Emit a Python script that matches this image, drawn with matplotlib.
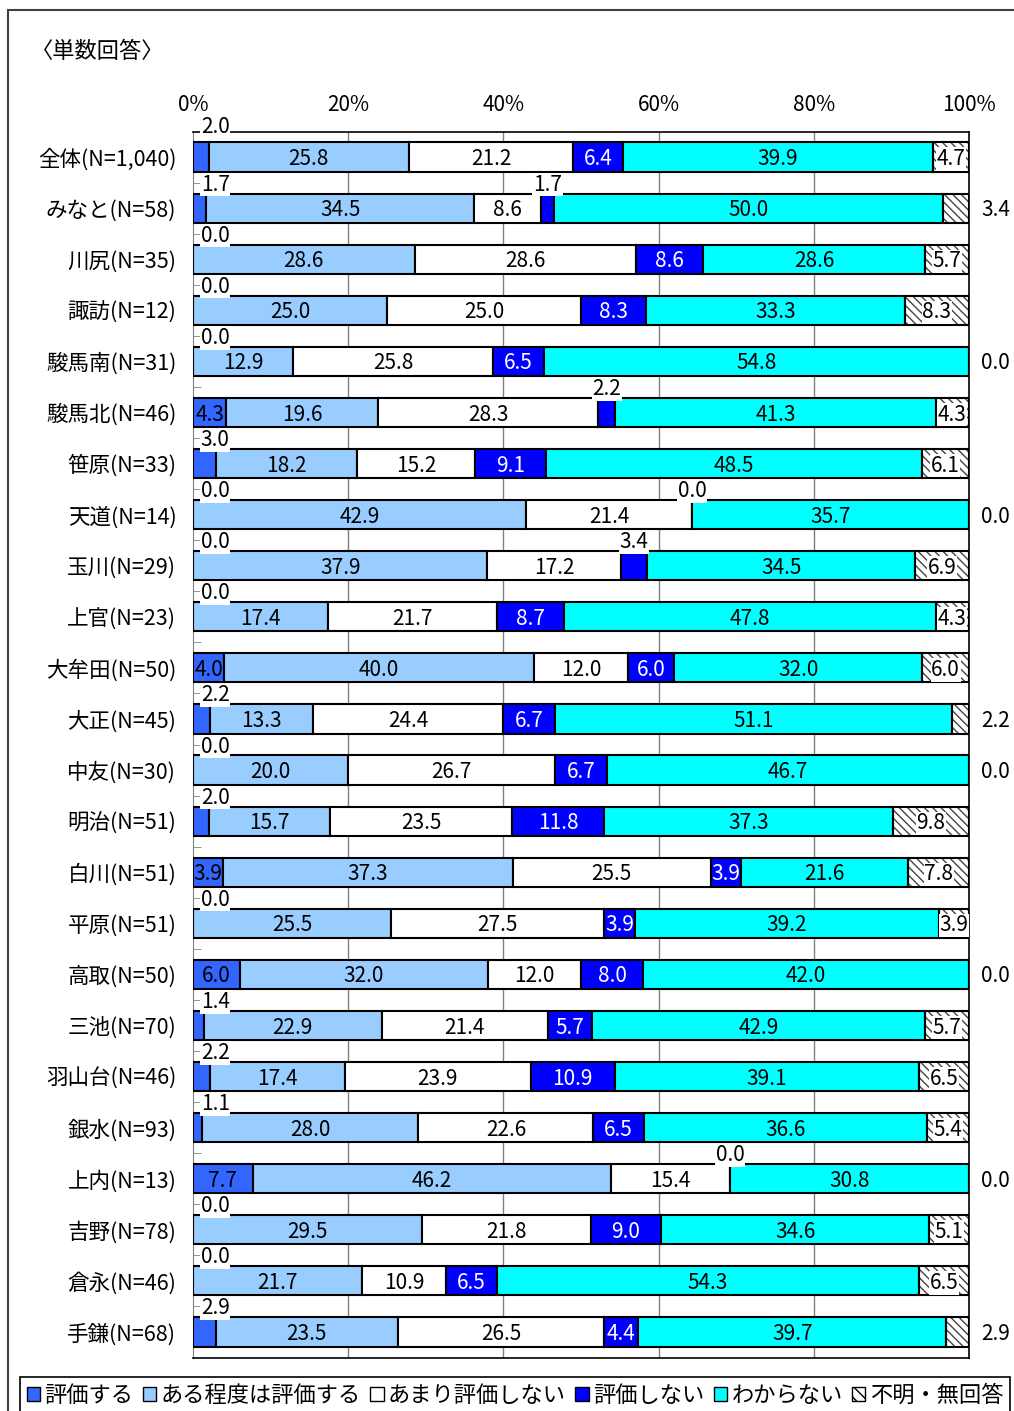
import matplotlib
matplotlib.use('Agg')
import matplotlib.pyplot as plt
from matplotlib.patches import Patch, Rectangle
import numpy as np

plt.rcParams['font.family'] = ['Noto Sans CJK JP', 'DejaVu Sans']

areas = ['全体(N=1,040)', 'みなと(N=58)', '川尻(N=35)', '諏訪(N=12)', '駿馬南(N=31)',
         '駿馬北(N=46)', '笹原(N=33)', '天道(N=14)', '玉川(N=29)', '上官(N=23)',
         '大牟田(N=50)', '大正(N=45)', '中友(N=30)', '明治(N=51)', '白川(N=51)',
         '平原(N=51)', '高取(N=50)', '三池(N=70)', '羽山台(N=46)', '銀水(N=93)',
         '上内(N=13)', '吉野(N=78)', '倉永(N=46)', '手鎌(N=68)']
series = ['評価する', 'ある程度は評価する', 'あまり評価しない', '評価しない', 'わからない', '不明・無回答']

hyoka     = [2.0, 1.7, 0.0, 0.0, 0.0, 4.3, 3.0, 0.0, 0.0, 0.0, 4.0, 2.2,
             0.0, 2.0, 3.9, 0.0, 6.0, 1.4, 2.2, 1.1, 7.7, 0.0, 0.0, 2.9]
aru       = [25.8, 34.5, 28.6, 25.0, 12.9, 19.6, 18.2, 42.9, 37.9, 17.4, 40.0, 13.3,
             20.0, 15.7, 37.3, 25.5, 32.0, 22.9, 17.4, 28.0, 46.2, 29.5, 21.7, 23.5]
amari     = [21.2, 8.6, 28.6, 25.0, 25.8, 28.3, 15.2, 21.4, 17.2, 21.7, 12.0, 24.4,
             26.7, 23.5, 25.5, 27.5, 12.0, 21.4, 23.9, 22.6, 15.4, 21.8, 10.9, 26.5]
shinai    = [6.4, 1.7, 8.6, 8.3, 6.5, 2.2, 9.1, 0.0, 3.4, 8.7, 6.0, 6.7,
             6.7, 11.8, 3.9, 3.9, 8.0, 5.7, 10.9, 6.5, 0.0, 9.0, 6.5, 4.4]
wakaranai = [39.9, 50.0, 28.6, 33.3, 54.8, 41.3, 48.5, 35.7, 34.5, 47.8, 32.0, 51.1,
             46.7, 37.3, 21.6, 39.2, 42.0, 42.9, 39.1, 36.6, 30.8, 34.6, 54.3, 39.7]
fumei     = [4.7, 3.4, 5.7, 8.3, 0.0, 4.3, 6.1, 0.0, 6.9, 4.3, 6.0, 2.2,
             0.0, 9.8, 7.8, 3.9, 0.0, 5.7, 6.5, 5.4, 0.0, 5.1, 6.5, 2.9]

colors = ['#3366FF', '#99CCFF', '#FFFFFF', '#0000FF', '#00FFFF', '#FFFFFF']
txt_colors = ['black', 'black', 'black', 'white', 'black', 'black']

values = np.array([hyoka, aru, amari, shinai, wakaranai, fumei]).T
pct = values / values.sum(axis=1, keepdims=True) * 100
lefts = np.cumsum(pct, axis=1) - pct

W, H = 1014, 1411
fig = plt.figure(figsize=(W / 100, H / 100), dpi=100)
ax = fig.add_axes([193 / W, 1 - 1357.5 / H, 776 / W, 1226 / H])

y = np.arange(len(areas))
bh = 0.57
fs = 15
dy = 0.04  # CJK font sits a little high with va='center'

for k in range(6):
    if k == 5:
        ax.barh(y, pct[:, k], left=lefts[:, k], height=bh, color='white',
                edgecolor='#444444', linewidth=0, hatch='\\\\\\\\', zorder=2)
        ax.barh(y, pct[:, k], left=lefts[:, k], height=bh, color='none',
                edgecolor='black', linewidth=1.5, zorder=3)
    else:
        ax.barh(y, pct[:, k], left=lefts[:, k], height=bh, color=colors[k],
                edgecolor='black', linewidth=1.5, zorder=3)

box = dict(facecolor='white', edgecolor='none', pad=0.5)
for i in range(len(areas)):
    off = 0.63 if i == 0 else 0.5
    for k in range(6):
        v = values[i, k]
        lab = f'{v:.1f}'
        cx = lefts[i, k] + pct[i, k] / 2
        if v >= 3.5:
            ax.text(cx, i + dy, lab, ha='center', va='center', fontsize=fs,
                    color=txt_colors[k], zorder=5,
                    bbox=box if k == 5 else None)
        elif k == 0:
            ax.text(1.0, i - off + dy, lab, ha='left', va='center', fontsize=fs,
                    zorder=5, bbox=box, clip_on=False)
        elif k == 3:
            ax.text(cx, i - off + dy, lab, ha='center', va='center', fontsize=fs,
                    zorder=5, bbox=box, clip_on=False)
        elif k == 5:
            ax.text(103.4, i + dy, lab, ha='center', va='center', fontsize=fs,
                    zorder=5, clip_on=False)

ax.set_xlim(0, 100)
ax.set_ylim(len(areas) - 0.5, -0.5)
ax.set_xticks([0, 20, 40, 60, 80, 100])
ax.set_xticklabels(['0%', '20%', '40%', '60%', '80%', '100%'], fontsize=fs)
ax.xaxis.tick_top()
ax.tick_params(axis='x', length=0, pad=11)
for gx in [20, 40, 60, 80]:
    ax.axvline(gx, color='#808080', linewidth=1, zorder=1)

ax.set_yticks(y)
ax.set_yticklabels(areas, fontsize=15.5)
ax.tick_params(axis='y', length=0, pad=12)
ax.set_yticks(np.arange(0.5, len(areas) - 0.5, 1), minor=True)
ax.tick_params(axis='y', which='minor', direction='in', length=6, color='#808080')

ax.spines['left'].set_color('#808080')
for s in ['top', 'right', 'bottom']:
    ax.spines[s].set_color('black')
    ax.spines[s].set_linewidth(1.2)

fig.text(31 / W, 1 - 52 / H, '〈単数回答〉', fontsize=16, ha='left', va='center')

# outer frame (only left and top edges fall inside the picture)
fig.patches.append(Rectangle((8 / W, -0.05), 1.1, 1 - 10 / H + 0.05,
                             transform=fig.transFigure, fill=False,
                             edgecolor='#404040', linewidth=1.5))

handles = []
for k in range(6):
    if k == 5:
        handles.append(Patch(facecolor='white', edgecolor='black', hatch='\\\\\\', linewidth=1))
    else:
        handles.append(Patch(facecolor=colors[k], edgecolor='black', linewidth=1))
leg = fig.legend(handles, series, loc='upper left', ncol=6, mode='expand',
                 bbox_to_anchor=(20 / W, 0, 990 / W, 1 - 1377 / H), fontsize=16,
                 handlelength=0.6, handleheight=0.6, handletextpad=0.2,
                 columnspacing=0.3, borderpad=0.3, borderaxespad=0,
                 fancybox=False, edgecolor='black', framealpha=1)
leg.get_frame().set_linewidth(1.2)

fig.savefig('out.png', dpi=100, facecolor='white')
